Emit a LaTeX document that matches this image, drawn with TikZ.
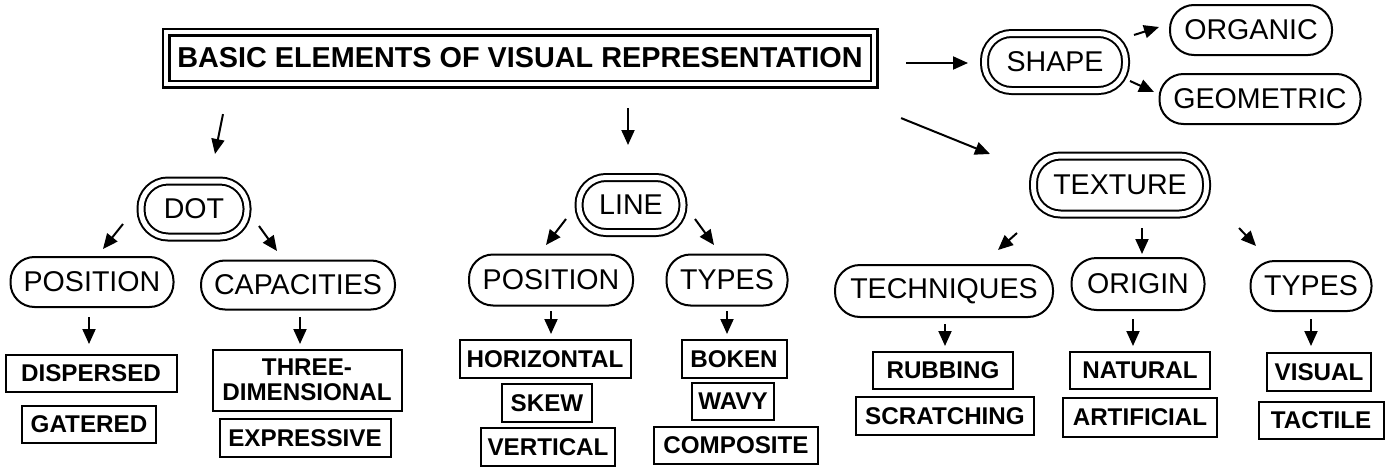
\documentclass[tikz,border=0pt]{standalone}
\usepackage{fontspec}
\setmainfont{Liberation Sans}
\usetikzlibrary{arrows.meta}

\begin{document}
\begin{tikzpicture}[
    x=1pt, y=-1pt,
    titleBox/.style={
        rectangle, draw, line width=2.2pt, double, double distance=4.6pt,
        inner sep=0pt, minimum width=708pt, minimum height=52pt,
        font=\bfseries\fontsize{28.8}{32}\selectfont
    },
    ovalNode/.style={
        rectangle, draw, line width=2pt, rounded corners=24pt,
        inner sep=0pt, minimum height=50pt,
        font=\fontsize{28.6}{32}\selectfont
    },
    mainOval/.style={ovalNode, double, double distance=5pt, rounded corners=27pt},
    itemBox/.style={
        rectangle, draw, line width=2pt, inner sep=0pt,
        minimum height=37pt, align=center,
        font=\bfseries\fontsize{24.2}{25}\selectfont
    },
    branch/.style={line width=2pt, -{Triangle[length=15pt,width=13pt]}}
]
    \useasboundingbox (0,0) rectangle (1390,471);

    % --- title ---
    \node[titleBox] (title) at (520,58) {BASIC ELEMENTS OF VISUAL REPRESENTATION};

    % --- 1. Shape ---
    \node[mainOval, minimum width=141pt, minimum height=57pt] (shape) at (1055,62) {SHAPE};
    \node[ovalNode, minimum width=162pt] (organic) at (1251,30) {ORGANIC};
    \node[ovalNode, minimum width=201pt] (geometric) at (1260,99) {GEOMETRIC};

    % --- 2. Dot ---
    \node[mainOval, minimum width=106pt, minimum height=56pt] (dot) at (194,209) {DOT};
    \node[ovalNode, minimum width=163pt] (dotPosition) at (92,282) {POSITION};
    \node[ovalNode, minimum width=194pt, minimum height=49pt] (dotCapacities) at (298,285) {CAPACITIES};
    \node[itemBox, minimum width=171pt] (dispersed) at (91,373) {DISPERSED};
    \node[itemBox, minimum width=134pt] (gatered) at (89,424) {GATERED};
    \node[itemBox, minimum width=189pt, minimum height=61pt] (threeDim) at (307,380) {THREE-\\DIMENSIONAL};
    \node[itemBox, minimum width=171pt, minimum height=38pt] (expressive) at (305,438) {EXPRESSIVE};

    % --- 3. Line ---
    \node[mainOval, minimum width=104pt, minimum height=55pt] (line) at (631,205) {LINE};
    \node[ovalNode, minimum width=164pt, minimum height=51pt] (linePosition) at (551,280) {POSITION};
    \node[ovalNode, minimum width=121pt, minimum height=51pt] (lineTypes) at (727,280) {TYPES};
    \node[itemBox, minimum width=171pt, minimum height=38pt] (horizontal) at (545,359) {HORIZONTAL};
    \node[itemBox, minimum width=90pt, minimum height=38pt] (skew) at (547,403) {SKEW};
    \node[itemBox, minimum width=134pt, minimum height=38pt] (vertical) at (548,447) {VERTICAL};
    \node[itemBox, minimum width=105pt, minimum height=38pt] (boken) at (734,359) {BOKEN};
    \node[itemBox, minimum width=82pt] (wavy) at (733,401) {WAVY};
    \node[itemBox, minimum width=164pt] (composite) at (736,445) {COMPOSITE};

    % --- 4. Texture ---
    \node[mainOval, minimum width=173pt, minimum height=58pt] (texture) at (1120,185) {TEXTURE};
    \node[ovalNode, minimum width=218pt, minimum height=52pt, rounded corners=25pt] (techniques) at (944,291) {TECHNIQUES};
    \node[ovalNode, minimum width=133pt, minimum height=52pt, rounded corners=25pt] (origin) at (1138,284) {ORIGIN};
    \node[ovalNode, minimum width=121pt] (textureTypes) at (1311,286) {TYPES};
    \node[itemBox, minimum width=140pt] (rubbing) at (943,370) {RUBBING};
    \node[itemBox, minimum width=178pt, minimum height=38pt] (scratching) at (945,416) {SCRATCHING};
    \node[itemBox, minimum width=140pt] (natural) at (1140,370) {NATURAL};
    \node[itemBox, minimum width=154pt, minimum height=39pt] (artificial) at (1140,417) {ARTIFICIAL};
    \node[itemBox, minimum width=104pt, minimum height=38pt] (visual) at (1319,372) {VISUAL};
    \node[itemBox, minimum width=125pt] (tactile) at (1321,420) {TACTILE};

    % arrows out of the title
    \draw[branch] ([shift={(-297,29)}]title.south) -- ([shift={(21,-26)}]dot.north);
    \draw[branch] ([shift={(108,23)}]title.south) -- ([shift={(-3,-31.5)}]line.north);
    \draw[branch] ([shift={(26,33)}]title.south east) -- ([shift={(-130,-1)}]texture.north);
    \draw[branch] ([shift={(31,5)}]title.east) -- ([shift={(-15.5,1)}]shape.west);

    % shape
    \draw[branch] ([shift={(7.5,-27)}]shape.east) -- ([shift={(-10,-3)}]organic.west);
    \draw[branch] ([shift={(3.5,19)}]shape.east) -- ([shift={(-4.5,-7)}]geometric.west);

    % dot
    \draw[branch] ([shift={(-71,-14)}]dot.south) -- ([shift={(11,-7)}]dotPosition.north);
    \draw[branch] ([shift={(65,-12)}]dot.south) -- ([shift={(-21,-8.5)}]dotCapacities.north);
    \draw[branch] ([shift={(-3,9)}]dotPosition.south) -- ([shift={(-2,-9.5)}]dispersed.north);
    \draw[branch] ([shift={(2,6.5)}]dotCapacities.south) -- ([shift={(-7,-4.5)}]threeDim.north);

    % line
    \draw[branch] ([shift={(-65,-14.5)}]line.south) -- ([shift={(-5,-8.5)}]linePosition.north);
    \draw[branch] ([shift={(64,-14.5)}]line.south) -- ([shift={(-13,-8.5)}]lineTypes.north);
    \draw[branch] ([shift={(0,4.5)}]linePosition.south) -- ([shift={(6,-5)}]horizontal.north);
    \draw[branch] ([shift={(0,4.5)}]lineTypes.south) -- ([shift={(-7,-5)}]boken.north);

    % texture
    \draw[branch] ([shift={(-103,18)}]texture.south) -- ([shift={(54,-14)}]techniques.north);
    \draw[branch] ([shift={(22,13)}]texture.south) -- ([shift={(4,-3)}]origin.north);
    \draw[branch] ([shift={(119,13)}]texture.south) -- ([shift={(-55,-14)}]textureTypes.north);
    \draw[branch] ([shift={(1,6)}]techniques.south) -- ([shift={(2,-4.5)}]rubbing.north);
    \draw[branch] ([shift={(-5,8)}]origin.south) -- ([shift={(-7,-4.5)}]natural.north);
    \draw[branch] ([shift={(0,7)}]textureTypes.south) -- ([shift={(-8,-6)}]visual.north);
\end{tikzpicture}
\end{document}
